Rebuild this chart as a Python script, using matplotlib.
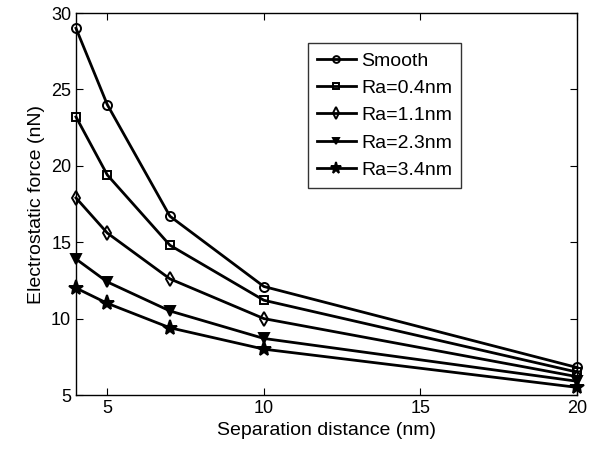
import matplotlib
matplotlib.use("Agg")
import matplotlib.pyplot as plt

# data
distance = [4, 5, 7, 10, 20]
labels = ["Smooth", "Ra=0.4nm", "Ra=1.1nm", "Ra=2.3nm", "Ra=3.4nm"]
smooth = [29.0, 24.0, 16.7, 12.1, 6.8]
ra04 = [23.2, 19.4, 14.8, 11.2, 6.5]
ra11 = [17.9, 15.6, 12.6, 10.0, 6.2]
ra23 = [13.9, 12.4, 10.5, 8.7, 5.9]
ra34 = [12.0, 11.0, 9.4, 8.0, 5.5]
markers = ["o", "s", "d", "v", "*"]
sizes = [6.5, 5.5, 7.5, 6.5, 11]

plt.rcParams["font.family"] = ["Liberation Sans", "DejaVu Sans"]

fig = plt.figure(figsize=(5.94, 4.53), dpi=100)
ax = fig.add_axes([76 / 594, 58 / 453, 501 / 594, 382 / 453])

series = [smooth, ra04, ra11, ra23, ra34]
for vals, lab, m, size in zip(series, labels, markers, sizes):
    ax.plot(distance, vals, color="black", linewidth=2, marker=m,
            markersize=size, markerfacecolor="none" if m in "osd" else "black",
            markeredgewidth=1.4, label=lab, clip_on=False, zorder=3)

ax.set_xlim(4, 20)
ax.set_ylim(5, 30)
ax.set_xticks([5, 10, 15, 20])
ax.set_yticks([5, 10, 15, 20, 25, 30])
ax.tick_params(direction="in", top=True, right=True, labelsize=13, length=5)
ax.set_xlabel("Separation distance (nm)", fontsize=14)
ax.set_ylabel("Electrostatic force (nN)", fontsize=14)
for s in ax.spines.values():
    s.set_linewidth(1)

leg = ax.legend(loc="upper left", bbox_to_anchor=(0.463, 0.921), borderaxespad=0,
                fontsize=14, frameon=True, fancybox=False, edgecolor="black",
                handlelength=2.0, handletextpad=0.3, borderpad=0.45,
                labelspacing=0.5, markerscale=0.75)
leg.get_frame().set_linewidth(1)

fig.savefig("out.png", dpi=100)
